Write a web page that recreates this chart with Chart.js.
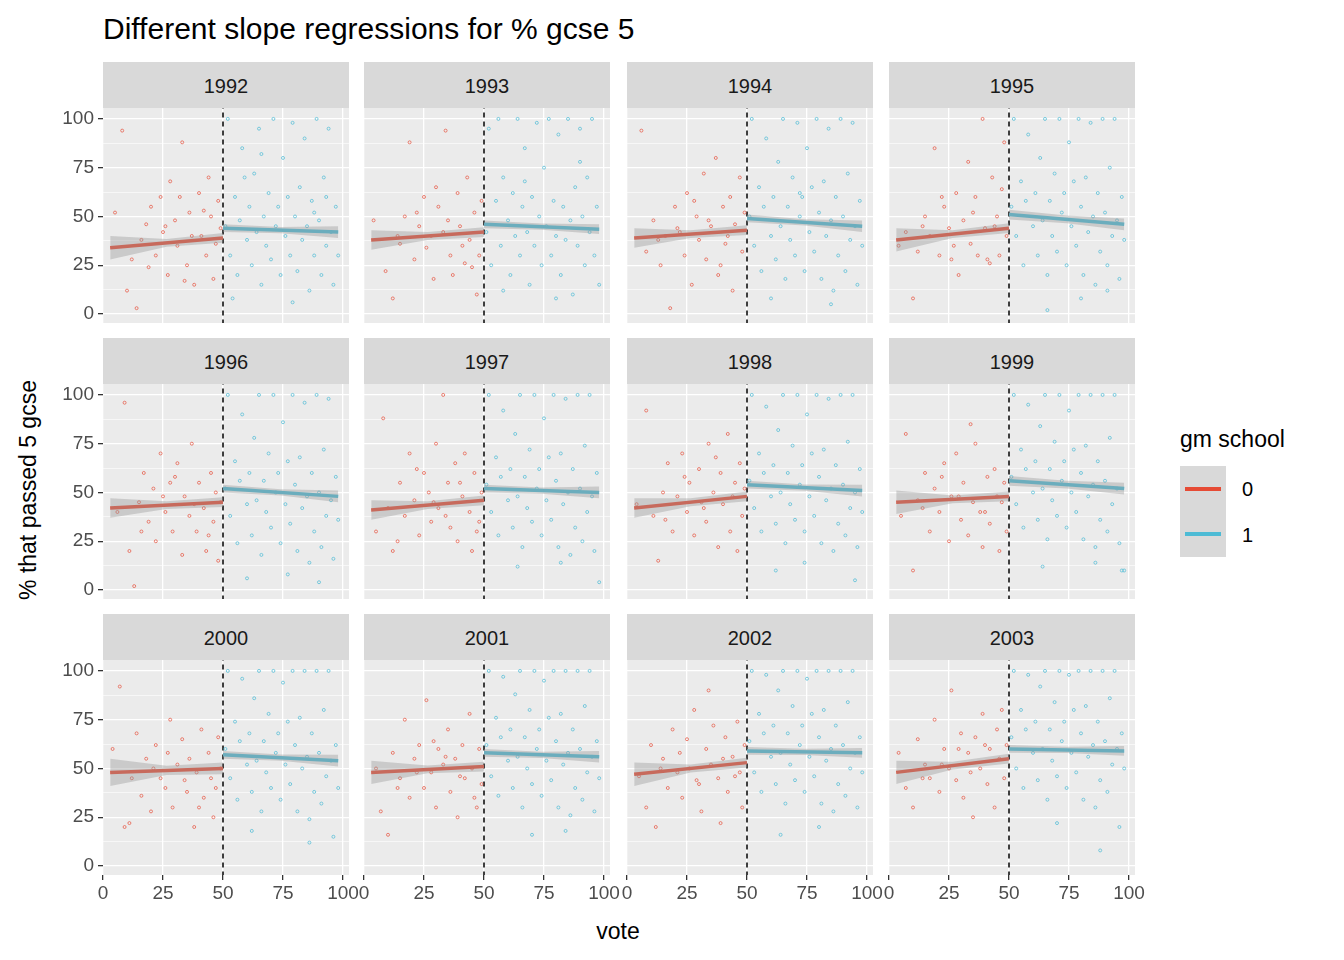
<!DOCTYPE html>
<html>
<head>
<meta charset="utf-8">
<script src="https://cdn.jsdelivr.net/npm/chart.js@4"></script>
<style>
  body { margin: 0; width: 1344px; height: 960px; background: #fff; font-family: "Liberation Sans", Arial, sans-serif; position: relative; overflow: hidden; }
  .abs { position: absolute; }
  .strip { position: absolute; background: #D9D9D9; color: #1A1A1A; font-size: 20px; text-align: center; }
  canvas { position: absolute; }
</style>
</head>
<body>
<div class="abs" style="left:103px;top:12px;font-size:30px;color:#000;">Different slope regressions for % gcse 5</div>
<div class="abs" style="left:28px;top:490px;font-size:23px;transform:translate(-50%,-50%) rotate(-90deg);white-space:nowrap;">% that passed 5 gcse</div>
<div class="abs" style="left:618px;top:931px;font-size:23px;transform:translate(-50%,-50%);">vote</div>
<div class="abs" style="left:1180px;top:426px;font-size:23px;">gm school</div>
<div class="abs" style="left:1180px;top:466px;width:46px;height:45px;background:#D9D9D9;"></div>
<div class="abs" style="left:1180px;top:511px;width:46px;height:46px;background:#D9D9D9;"></div>
<div class="abs" style="left:1185px;top:487px;width:36px;height:4px;background:#E64B35;"></div>
<div class="abs" style="left:1185px;top:532px;width:36px;height:4px;background:#4DBBD5;"></div>
<div class="abs" style="left:1242px;top:478px;font-size:20px;">0</div>
<div class="abs" style="left:1242px;top:524px;font-size:20px;">1</div>
<script>
const years = [1992, 1993, 1994, 1995, 1996, 1997, 1998, 1999, 2000, 2001, 2002, 2003];
const yTicks = [0, 25, 50, 75, 100];
const xTicks = [0, 25, 50, 75, 100];
// fitted line endpoints (x = 3 -> 50, 50 -> 98)
const redFit = [[34,39],[38,42],[39,43],[38,44],[42,45],[41,46],[42,48],[45,48],[48,50],[48,51],[47,53],[48,55]];
const blueFit = [[44,42],[46,43.5],[49,45],[51,46],[52,48],[52,50],[54,51],[56,52],[57,54],[58,56],[59,58],[60,59]];
// confidence half-widths: red at left, red at right, blue at left, blue at right
const redBand = [[6,2.5],[5,2.5],[5,2.5],[6,2.5],[5,2.5],[5,2.5],[5,2.5],[6,2.5],[7,3],[6,2.5],[6,2.5],[6,2.5]];
const blueBand = [[2,3],[2,2.5],[2,3],[2.5,3],[2,3],[2,3],[2,3],[2.5,3],[2,3],[2,3],[2,2.5],[2,2.5]];

const redPoints = [
 [5,52,8,94,10,12,14,3,16,38,18,46,20,55,22,30,24,60,25,42,27,20,28,68,30,48,31,35,33,88,35,25,36,52,38,15,40,62,41,40,43,30,44,70,45,50,46,18,47,36,48,58,49,44,12,28,19,24,26,45,32,60,37,40,42,53,34,17],
 [4,48,9,22,12,8,15,36,17,50,19,88,21,28,23,45,25,60,26,34,28,40,29,18,31,55,33,42,34,94,36,30,37,20,39,62,40,45,42,26,43,70,44,38,46,52,47,10,48,30,49,58,14,40,22,52,30,65,35,48,41,35,45,24],
 [6,94,8,32,11,48,14,25,16,40,18,3,20,55,22,42,24,30,25,62,27,15,29,50,30,38,32,72,33,28,35,45,37,80,38,20,40,55,41,36,43,60,44,12,45,46,47,70,48,32,49,52,13,38,21,44,28,58,34,48,39,25,42,40],
 [4,35,7,42,10,8,12,32,15,50,17,40,19,85,21,30,23,55,25,44,26,28,28,62,29,20,31,48,33,78,34,36,36,60,37,30,39,100,40,44,42,26,43,70,45,50,46,30,47,64,48,88,49,40,14,45,22,60,27,35,35,52,41,28,44,45],
 [6,40,9,96,11,20,13,2,15,45,17,60,19,35,21,52,22,25,24,70,26,40,28,55,29,30,31,65,33,18,34,48,36,38,37,75,39,30,40,55,42,42,43,20,45,60,46,35,47,50,48,15,49,45,16,30,25,48,30,58,38,44,44,28],
 [5,30,8,88,10,42,12,20,15,55,17,38,19,70,21,46,23,28,25,60,27,50,28,35,30,75,31,42,33,100,35,55,36,32,38,65,39,25,41,48,42,70,44,40,45,20,46,60,48,35,49,50,14,25,22,62,29,45,34,38,40,55,47,30],
 [4,44,8,92,11,38,13,15,15,50,17,65,19,30,21,48,23,70,25,40,26,55,28,28,30,62,31,45,33,35,34,75,36,50,38,22,39,60,40,44,42,80,43,30,45,55,46,20,47,65,48,38,49,52,16,36,24,58,32,42,37,68,44,48],
 [5,38,7,80,10,10,12,46,15,60,17,30,19,52,21,40,23,65,25,25,26,48,28,70,30,36,31,55,33,28,35,45,36,75,38,40,39,22,41,58,42,34,44,62,45,48,46,20,48,55,49,30,14,42,22,58,29,48,34,85,40,40,47,45],
 [4,60,7,92,9,20,12,45,14,68,16,36,18,55,20,28,22,62,24,45,26,40,28,75,29,30,31,52,33,65,35,38,36,55,38,20,39,48,41,70,42,35,44,58,45,45,46,25,48,66,49,50,11,22,21,50,27,58,34,44,40,30,47,40],
 [5,50,7,28,10,16,12,58,15,45,17,75,19,35,21,55,23,62,25,40,26,85,28,48,30,30,31,60,33,52,35,70,36,38,38,55,39,25,41,62,42,45,44,78,45,50,46,35,48,60,49,42,14,40,22,48,29,64,34,56,40,46,47,30],
 [5,46,8,30,10,62,12,20,15,55,17,40,19,70,21,48,23,35,25,65,26,50,28,80,30,42,31,28,33,60,35,52,36,72,38,45,39,22,41,66,42,38,44,56,45,46,46,74,48,30,49,62,14,50,22,58,29,44,34,90,40,55,47,48],
 [4,58,7,40,10,30,12,65,15,52,17,45,19,75,21,38,23,60,25,50,26,90,28,44,30,68,31,35,33,58,35,25,36,66,38,50,39,78,41,42,42,60,44,30,45,70,46,55,48,45,49,62,14,45,22,52,29,60,34,48,40,62,47,80]
];
const bluePoints = [
 [51,45,52,100,53,30,55,60,56,20,57,48,58,85,60,38,61,55,62,25,63,72,64,42,65,95,66,15,67,50,68,35,69,62,70,28,71,100,72,45,73,55,74,20,75,80,76,40,77,60,78,30,79,98,80,50,81,22,82,65,83,38,84,90,85,45,86,12,87,58,88,30,89,100,90,48,91,20,92,70,93,35,94,95,95,42,96,15,97,55,98,30,54,8,59,70,66,82,79,6,88,52,93,60],
 [51,42,52,95,53,25,55,58,56,100,57,35,58,70,60,48,61,20,62,62,63,40,64,100,65,30,66,55,67,85,68,42,69,15,70,60,71,35,72,98,73,50,74,25,75,75,76,45,77,100,78,30,79,58,80,40,81,92,82,20,83,55,84,38,85,100,86,48,87,10,88,65,89,35,90,95,91,50,92,25,93,70,94,42,95,100,96,30,97,55,98,15,58,12,67,68,80,8,90,78],
 [51,50,52,100,53,35,55,65,56,22,57,55,58,90,60,40,61,60,62,28,63,78,64,45,65,100,66,18,67,55,68,38,69,70,70,30,71,98,72,50,73,60,74,22,75,85,76,42,77,65,78,32,79,100,80,52,81,18,82,68,83,40,84,95,85,48,86,12,87,60,88,30,89,100,90,50,91,22,92,72,93,38,94,98,95,45,96,15,97,58,98,35,60,8,72,62,85,5],
 [51,55,52,100,53,40,55,68,56,25,57,58,58,92,60,45,61,62,62,30,63,80,64,48,65,100,66,20,67,58,68,40,69,72,70,32,71,100,72,52,73,62,74,25,75,88,76,45,77,68,78,35,79,100,80,55,81,20,82,70,83,42,84,98,85,50,86,15,87,62,88,32,89,100,90,52,91,25,92,75,93,40,94,100,95,48,96,18,97,60,98,38,66,2,80,8,91,12],
 [51,52,52,100,53,38,55,66,56,24,57,56,58,90,60,44,61,60,62,28,63,78,64,46,65,100,66,18,67,56,68,40,69,70,70,32,71,100,72,50,73,60,74,24,75,86,76,44,77,66,78,34,79,100,80,54,81,20,82,68,83,42,84,96,85,48,86,14,87,60,88,30,89,100,90,50,91,22,92,72,93,38,94,98,95,46,96,16,97,58,98,36,60,6,77,8,90,4],
 [51,54,52,100,53,40,55,68,56,28,57,58,58,92,60,46,61,62,62,32,63,80,64,48,65,100,66,22,67,58,68,42,69,72,70,35,71,100,72,52,73,62,74,28,75,88,76,46,77,68,78,36,79,100,80,56,81,22,82,70,83,44,84,98,85,50,86,18,87,62,88,32,89,100,90,52,91,25,92,74,93,40,94,100,95,48,96,20,97,60,98,4,64,12,82,14],
 [51,56,52,100,53,42,55,70,56,30,57,60,58,94,60,48,61,64,62,34,63,82,64,50,65,100,66,24,67,60,68,44,69,74,70,36,71,100,72,54,73,64,74,30,75,90,76,48,77,70,78,38,79,100,80,58,81,24,82,72,83,46,84,98,85,52,86,20,87,64,88,34,89,100,90,54,91,28,92,76,93,42,94,100,95,50,96,22,97,62,98,40,62,10,74,14,95,5],
 [51,58,52,100,53,44,55,72,56,32,57,62,58,95,60,50,61,66,62,36,63,84,64,52,65,100,66,26,67,62,68,46,69,76,70,38,71,100,72,56,73,66,74,32,75,92,76,50,77,72,78,40,79,100,80,60,81,26,82,74,83,48,84,100,85,54,86,22,87,66,88,36,89,100,90,56,91,30,92,78,93,44,94,100,95,52,96,24,97,10,98,10,64,12,86,14],
 [51,60,52,100,53,45,55,74,56,34,57,64,58,96,60,52,61,68,62,38,63,86,64,54,65,100,66,28,67,64,68,48,69,78,70,40,71,100,72,58,73,68,74,34,75,94,76,52,77,74,78,42,79,100,80,62,81,28,82,76,83,50,84,100,85,56,86,24,87,68,88,38,89,100,90,58,91,32,92,80,93,46,94,100,95,54,96,15,97,62,98,40,62,18,86,12],
 [51,62,52,100,53,46,55,76,56,36,57,66,58,97,60,54,61,70,62,40,63,88,64,56,65,100,66,30,67,66,68,50,69,80,70,42,71,100,72,60,73,70,74,36,75,95,76,54,77,76,78,44,79,100,80,64,81,30,82,78,83,52,84,100,85,58,86,26,87,70,88,40,89,100,90,60,91,34,92,82,93,48,94,100,95,56,96,28,97,64,98,45,70,16,84,18],
 [51,64,52,100,53,48,55,78,56,38,57,68,58,98,60,56,61,72,62,42,63,90,64,58,65,100,66,32,67,68,68,52,69,82,70,44,71,100,72,62,73,72,74,38,75,96,76,56,77,78,78,46,79,100,80,66,81,32,82,80,83,54,84,100,85,60,86,28,87,72,88,42,89,100,90,62,91,36,92,84,93,50,94,100,95,58,96,30,97,66,98,48,64,16,80,20],
 [51,66,52,100,53,50,55,80,56,40,57,70,58,98,60,58,61,74,62,44,63,92,64,60,65,100,66,34,67,70,68,54,69,84,70,46,71,100,72,64,73,74,74,40,75,98,76,58,77,80,78,48,79,100,80,68,81,34,82,82,83,56,84,100,85,62,86,30,87,74,88,44,89,100,90,64,91,38,92,86,93,52,94,100,95,60,96,20,97,68,98,50,70,22,88,8]
];

const colLeft = [103, 364, 627, 889];
const rowTop = [108, 384, 660];
const plotW = 246, plotH = 215;
// every canvas gets identical margins so the chart areas line up
const padL = 60, padB = 44, padT = 20, padR = 24;
const RED = '#E64B35', BLUE = '#4DBBD5';

const bgPlugin = {
    id: 'panelBg',
    beforeDraw(chart) {
        const a = chart.chartArea, c = chart.ctx;
        c.save();
        c.fillStyle = '#EBEBEB';
        c.fillRect(a.left, a.top, a.right - a.left, a.bottom - a.top);
        c.restore();
    }
};

function toPts(flat) {
    const out = [];
    for (let i = 0; i < flat.length; i += 2) out.push({x: flat[i], y: flat[i + 1]});
    return out;
}

function lineSet(data, color, width, extra) {
    return Object.assign({type: 'line', data: data, borderColor: color, borderWidth: width, pointRadius: 0, fill: false, tension: 0}, extra || {});
}

function gridWidth(ctx) {
    return ctx.tick && ctx.tick.value % 25 === 0 ? 1.3 : 0.6;
}

function tickCol(show) {
    return c => (show && c.tick && c.tick.value % 25 === 0) ? '#333333' : 'transparent';
}

function makePanel(i) {
    const row = Math.floor(i / 4), col = i % 4;
    const showY = col === 0, showX = row === 2;
    const w = plotW + padL + padR, h = plotH + padT + padB;

    const strip = document.createElement('div');
    strip.className = 'strip';
    strip.style.cssText = `left:${colLeft[col]}px;top:${rowTop[row] - 46}px;width:${plotW}px;height:46px;line-height:48px;`;
    strip.textContent = years[i];
    document.body.appendChild(strip);

    const cv = document.createElement('canvas');
    cv.style.cssText = `left:${colLeft[col] - padL}px;top:${rowTop[row] - padT}px;width:${w}px;height:${h}px;`;
    cv.width = w; cv.height = h;
    document.body.appendChild(cv);

    const rf = redFit[i], bf = blueFit[i], rb = redBand[i], bb = blueBand[i];
    const rMid = (rf[0] + rf[1]) / 2, bMid = (bf[0] + bf[1]) / 2;
    const rMidW = Math.min(rb[0], rb[1]) * 0.8, bMidW = Math.min(bb[0], bb[1]) * 0.8;
    const band = 'rgba(153,153,153,0.4)';

    new Chart(cv, {
        type: 'scatter',
        data: {
            datasets: [
                lineSet([{x:3,y:rf[0]-rb[0]},{x:26.5,y:rMid-rMidW},{x:50,y:rf[1]-rb[1]}], 'transparent', 0),
                lineSet([{x:3,y:rf[0]+rb[0]},{x:26.5,y:rMid+rMidW},{x:50,y:rf[1]+rb[1]}], 'transparent', 0, {fill: '-1', backgroundColor: band}),
                lineSet([{x:50,y:bf[0]-bb[0]},{x:74,y:bMid-bMidW},{x:98,y:bf[1]-bb[1]}], 'transparent', 0),
                lineSet([{x:50,y:bf[0]+bb[0]},{x:74,y:bMid+bMidW},{x:98,y:bf[1]+bb[1]}], 'transparent', 0, {fill: '-1', backgroundColor: band}),
                {data: toPts(redPoints[i]), borderColor: 'rgba(230,75,53,0.75)', backgroundColor: 'transparent', pointRadius: 1.5, borderWidth: 0.9},
                {data: toPts(bluePoints[i]), borderColor: 'rgba(77,187,213,0.8)', backgroundColor: 'transparent', pointRadius: 1.5, borderWidth: 0.9},
                lineSet([{x:3,y:rf[0]},{x:50,y:rf[1]}], RED, 3.5),
                lineSet([{x:50,y:bf[0]},{x:98,y:bf[1]}], BLUE, 3.5),
                lineSet([{x:50,y:-10},{x:50,y:110}], '#000', 1.5, {borderDash: [5, 4]})
            ]
        },
        options: {
            animation: false,
            responsive: false,
            devicePixelRatio: 1,
            layout: {padding: {top: padT, right: padR, left: 0, bottom: 0}},
            plugins: {legend: {display: false}, tooltip: {enabled: false}},
            scales: {
                x: {
                    type: 'linear', min: 0, max: 102.5,
                    afterBuildTicks: s => { s.ticks = [0,12.5,25,37.5,50,62.5,75,87.5,100].map(v => ({value: v})); },
                    afterFit: s => { s.height = padB; },
                    border: {display: false},
                    grid: {color: '#FFFFFF', lineWidth: gridWidth, drawTicks: true, tickLength: 5, tickColor: tickCol(showX)},
                    ticks: {color: showX ? '#4D4D4D' : 'transparent', font: {size: 19, family: 'Liberation Sans'}, padding: 2, maxRotation: 0,
                            callback: v => xTicks.includes(v) ? String(v) : ''}
                },
                y: {
                    type: 'linear', min: -4.6, max: 105.6,
                    afterBuildTicks: s => { s.ticks = [0,12.5,25,37.5,50,62.5,75,87.5,100].map(v => ({value: v})); },
                    afterFit: s => { s.width = padL; },
                    border: {display: false},
                    grid: {color: '#FFFFFF', lineWidth: gridWidth, drawTicks: true, tickLength: 5, tickColor: tickCol(showY)},
                    ticks: {color: showY ? '#4D4D4D' : 'transparent', font: {size: 19, family: 'Liberation Sans'}, padding: 4,
                            callback: v => yTicks.includes(v) ? String(v) : ''}
                }
            }
        },
        plugins: [bgPlugin]
    });
}

years.forEach((y, i) => makePanel(i));
</script>
</body>
</html>
